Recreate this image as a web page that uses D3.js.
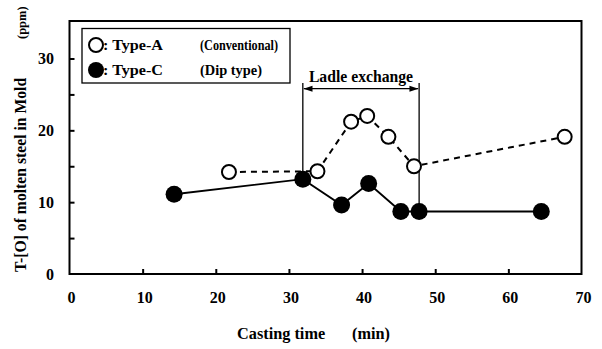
<!DOCTYPE html>
<html>
<head>
<meta charset="utf-8">
<script src="https://cdn.jsdelivr.net/npm/d3@7"></script>
<style>
  html, body { margin: 0; padding: 0; background: #fff; }
</style>
</head>
<body>
<svg id="chart" width="602" height="349"></svg>
<script>
// ---- data ----
const typeA_time = [21.8, 33.9, 38.5, 40.7, 43.6, 47.1, 67.7];
const typeA_TO   = [14.2, 14.3, 21.2, 22.0, 19.1, 15.0, 19.1];
const typeC_time = [14.3, 31.9, 37.2, 40.9, 45.3, 47.8, 64.5];
const typeC_TO   = [11.1, 13.2, 9.6, 12.6, 8.7, 8.7, 8.7];
const xTicks = [0, 10, 20, 30, 40, 50, 60, 70];
const yTickLabels = [0, 10, 20, 30];
const yMinorTicks = [5, 10, 15, 20, 25, 30];
const ladleStart = 31.9, ladleEnd = 47.8, ladleTop = 26.6, ladleArrow = 25.8;
const legendLabels = [": Type-A", ": Type-C"];
const legendNotes = ["(Conventional)", "(Dip type)"];

const FONT = "Liberation Serif";
const svg = d3.select("#chart");
const x = d3.scaleLinear().domain([0, 70]).range([69.5, 581.5]);
const y = d3.scaleLinear().domain([0, 30]).range([274, 58.5]);
const yTopVal = y.invert(21);

function txt(sel) { return sel.attr("font-family", FONT).attr("font-weight", "bold").attr("fill", "#000"); }

// frame
svg.append("rect")
  .attr("x", x(0)).attr("y", y(yTopVal))
  .attr("width", x(70) - x(0)).attr("height", y(0) - y(yTopVal))
  .attr("fill", "none").attr("stroke", "#000").attr("stroke-width", 2);

// x ticks (inward)
const xAxis = d3.axisTop(x).tickValues(xTicks.filter(d => d > 0 && d < 70)).tickSize(5).tickFormat("");
svg.append("g").attr("transform", `translate(0,${y(0)})`).call(xAxis)
  .call(g => g.select(".domain").remove())
  .call(g => g.selectAll("line").attr("stroke-width", 2));
svg.append("g").selectAll("text").data(xTicks).join("text")
  .attr("x", d => x(d) + 2).attr("y", 303)
  .attr("text-anchor", "middle").attr("font-size", 16)
  .call(txt).text(d => d);

// y ticks (inward)
const yAxis = d3.axisRight(y).tickValues(yMinorTicks).tickSize(5).tickFormat("");
svg.append("g").attr("transform", `translate(${x(0)},0)`).call(yAxis)
  .call(g => g.select(".domain").remove())
  .call(g => g.selectAll("line").attr("stroke-width", 2));
svg.append("g").selectAll("text").data(yTickLabels).join("text")
  .attr("x", 54).attr("y", d => y(d) + 5.5)
  .attr("text-anchor", "end").attr("font-size", 16)
  .call(txt).text(d => d);

// axis titles
svg.append("text").attr("x", 237).attr("y", 339).attr("font-size", 16.3).call(txt).text("Casting time");
svg.append("text").attr("x", 352).attr("y", 339).attr("font-size", 16.3).call(txt).text("(min)");
svg.append("text").attr("transform", "translate(26,272) rotate(-90)").attr("font-size", 15.7).call(txt).text("T-[O] of molten steel in Mold");
svg.append("text").attr("transform", "translate(26,39) rotate(-90)").attr("font-size", 12.5)
  .call(txt).text("(ppm)");

// ladle exchange
const lad = svg.append("g").attr("stroke", "#000").attr("stroke-width", 1.3);
lad.append("line").attr("x1", x(ladleStart)).attr("x2", x(ladleStart))
  .attr("y1", y(ladleTop)).attr("y2", y(typeC_TO[1]));
lad.append("line").attr("x1", x(ladleEnd)).attr("x2", x(ladleEnd))
  .attr("y1", y(ladleTop)).attr("y2", y(typeC_TO[5]));
lad.append("line").attr("x1", x(ladleStart) + 1).attr("x2", x(ladleEnd) - 1)
  .attr("y1", y(ladleArrow)).attr("y2", y(ladleArrow));
const ay = y(ladleArrow), axL = x(ladleStart) + 0.7, axR = x(ladleEnd) - 0.7;
svg.append("path").attr("d", `M${axL},${ay} l9,-3 l0,6 z`).attr("fill", "#000");
svg.append("path").attr("d", `M${axR},${ay} l-9,-3 l0,6 z`).attr("fill", "#000");
svg.append("text").attr("x", (x(ladleStart) + x(ladleEnd)) / 2).attr("y", 82)
  .attr("text-anchor", "middle").attr("font-size", 15.7).call(txt).text("Ladle exchange");

// series lines
const ptsA = typeA_time.map((t, i) => [t, typeA_TO[i]]);
const ptsC = typeC_time.map((t, i) => [t, typeC_TO[i]]);
const line = d3.line().x(d => x(d[0])).y(d => y(d[1]));
svg.append("path").attr("d", line(ptsC)).attr("fill", "none").attr("stroke", "#000").attr("stroke-width", 1.8);
svg.append("path").attr("d", line(ptsA)).attr("fill", "none").attr("stroke", "#000").attr("stroke-width", 2).attr("stroke-dasharray", "6,5");

// markers
svg.append("g").selectAll("circle").data(ptsC).join("circle")
  .attr("cx", d => x(d[0])).attr("cy", d => y(d[1])).attr("r", 8.5).attr("fill", "#000");
svg.append("g").selectAll("circle").data(ptsA).join("circle")
  .attr("cx", d => x(d[0])).attr("cy", d => y(d[1])).attr("r", 7).attr("fill", "#fff")
  .attr("stroke", "#000").attr("stroke-width", 2);

// legend
const lg = svg.append("g");
lg.append("rect").attr("x", 82).attr("y", 28.5).attr("width", 208).attr("height", 54.5)
  .attr("fill", "#fff").attr("stroke", "#000").attr("stroke-width", 1.3);
lg.append("circle").attr("cx", 96).attr("cy", 45).attr("r", 7).attr("fill", "#fff").attr("stroke", "#000").attr("stroke-width", 2);
lg.append("circle").attr("cx", 96).attr("cy", 70).attr("r", 8).attr("fill", "#000");
lg.selectAll("text.lab").data(legendLabels).join("text").attr("class", "lab")
  .attr("x", 103).attr("y", (d, i) => 50 + i * 25).attr("font-size", 15.5)
  .attr("textLength", 60).attr("lengthAdjust", "spacingAndGlyphs").call(txt).text(d => d);
const noteLen = [78, 62];
lg.selectAll("text.note").data(legendNotes).join("text").attr("class", "note")
  .attr("x", 200).attr("y", (d, i) => 50 + i * 25).attr("font-size", 15.5)
  .attr("textLength", (d, i) => noteLen[i]).attr("lengthAdjust", "spacingAndGlyphs").call(txt).text(d => d);
</script>
</body>
</html>
